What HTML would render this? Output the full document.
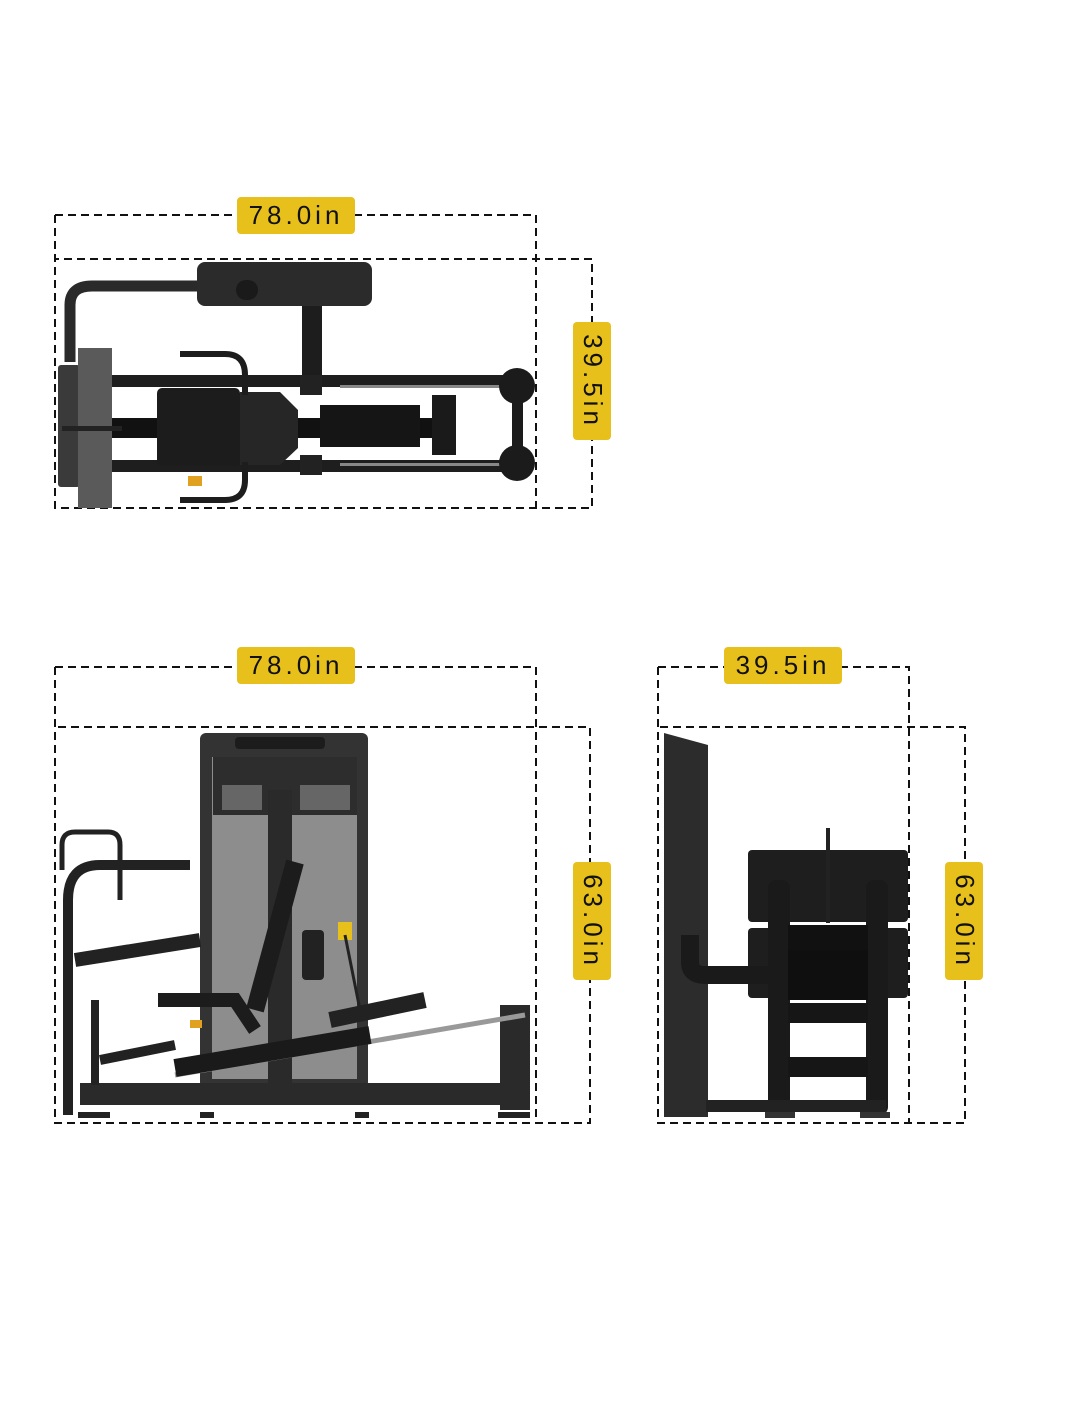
<!DOCTYPE html>
<html><head><meta charset="utf-8"><style>
html,body{margin:0;padding:0;background:#fff;}
body{width:1065px;height:1420px;position:relative;overflow:hidden;}
svg{position:absolute;left:0;top:0;}
.lab{position:absolute;background:#e8c01c;border-radius:4px;color:#111;font-family:"Liberation Sans",sans-serif;font-size:26px;letter-spacing:4px;display:flex;align-items:center;justify-content:center;}
.h{width:118px;height:37px;}
.v{width:38px;height:118px;}
.v span{display:block;transform:rotate(90deg);white-space:nowrap;}
</style></head><body>
<svg width="1065" height="1420" viewBox="0 0 1065 1420">
<g fill="none" stroke="#111" stroke-width="2" stroke-dasharray="8,5">
<!-- top view -->
<path d="M55 215H536V508"/><path d="M55 215V508H592V259H55"/>
<!-- side -->
<path d="M55 667H536V1123"/><path d="M55 667V1123H590V727H55"/>
<!-- front -->
<path d="M658 667H909V1123"/><path d="M658 667V1123H965V727H658"/>
</g>
<!-- TOP VIEW machine -->
<g>
<path d="M70 362V305Q70 286 92 286H200" stroke="#2a2a2a" stroke-width="11" fill="none"/>
<rect x="197" y="262" width="175" height="44" rx="8" fill="#2b2b2b"/>
<rect x="236" y="280" width="22" height="20" rx="10" fill="#1a1a1a"/>
<rect x="302" y="306" width="20" height="76" fill="#1d1d1d"/>
<rect x="58" y="365" width="22" height="122" rx="3" fill="#3a3a3a"/>
<rect x="78" y="348" width="34" height="160" fill="#5a5a5a"/>
<rect x="112" y="375" width="408" height="12" fill="#1e1e1e"/>
<rect x="112" y="460" width="408" height="12" fill="#1e1e1e"/>
<rect x="112" y="418" width="320" height="20" fill="#111"/>
<rect x="157" y="388" width="83" height="78" rx="5" fill="#1c1c1c"/>
<path d="M240 392L280 392L298 410V448L280 465H240Z" fill="#262626"/>
<rect x="320" y="405" width="100" height="42" fill="#151515"/>
<rect x="432" y="395" width="24" height="60" fill="#1a1a1a"/>
<rect x="340" y="385" width="190" height="3" fill="#888"/>
<rect x="340" y="463" width="190" height="3" fill="#888"/>
<circle cx="517" cy="386" r="18" fill="#1b1b1b"/>
<circle cx="517" cy="463" r="18" fill="#1b1b1b"/>
<rect x="512" y="386" width="11" height="77" fill="#1b1b1b"/>
<path d="M180 354H225Q245 354 245 375V395M180 500H225Q245 500 245 480V462" stroke="#1d1d1d" stroke-width="6" fill="none"/>
<rect x="62" y="426" width="60" height="5" fill="#222"/>
<rect x="188" y="476" width="14" height="10" fill="#e0a020"/>
<rect x="300" y="375" width="22" height="20" fill="#222"/>
<rect x="300" y="455" width="22" height="20" fill="#222"/>
</g>
<!-- SIDE VIEW machine -->
<g>
<rect x="200" y="733" width="168" height="355" rx="6" fill="#333"/>
<rect x="212" y="757" width="145" height="322" fill="#8d8d8d"/>
<rect x="213" y="757" width="144" height="58" fill="#2d2d2d"/>
<rect x="235" y="737" width="90" height="12" rx="4" fill="#1c1c1c"/>
<rect x="268" y="790" width="24" height="295" fill="#2a2a2a"/>
<rect x="222" y="785" width="40" height="25" fill="#bbb" opacity=".4"/>
<rect x="300" y="785" width="50" height="25" fill="#bbb" opacity=".4"/>
<rect x="80" y="1083" width="440" height="22" fill="#2a2a2a"/>
<rect x="500" y="1005" width="30" height="105" fill="#2a2a2a"/>
<path d="M175 1075L525 1015" stroke="#999" stroke-width="5"/>
<path d="M175 1068L370 1035" stroke="#1a1a1a" stroke-width="18"/>
<path d="M295 862L255 1010" stroke="#1c1c1c" stroke-width="18"/>
<rect x="302" y="930" width="22" height="50" rx="4" fill="#222"/>
<path d="M158 1000H235L255 1030" stroke="#1c1c1c" stroke-width="14" fill="none"/>
<path d="M330 1020L425 1000" stroke="#222" stroke-width="16"/>
<rect x="338" y="922" width="14" height="18" fill="#e8c01c"/>
<path d="M345 935L360 1010" stroke="#222" stroke-width="3"/>
<path d="M68 1115V900Q68 865 100 865H190" stroke="#222" stroke-width="10" fill="none"/>
<path d="M62 870V845Q62 832 75 832H108Q120 832 120 845V900" stroke="#222" stroke-width="5" fill="none"/>
<path d="M75 960L200 940" stroke="#222" stroke-width="14"/>
<path d="M95 1000V1085" stroke="#222" stroke-width="8"/>
<path d="M100 1060L175 1045" stroke="#222" stroke-width="10"/>
<rect x="190" y="1020" width="12" height="8" fill="#e0a020"/>
<rect x="78" y="1112" width="32" height="6" fill="#222"/>
<rect x="498" y="1112" width="32" height="6" fill="#222"/>
<rect x="200" y="1112" width="14" height="6" fill="#222"/>
<rect x="355" y="1112" width="14" height="6" fill="#222"/>
</g>
<!-- FRONT VIEW machine -->
<g>
<path d="M664 733L708 745V1117H664Z" fill="#2c2c2c"/>
<rect x="748" y="850" width="160" height="72" rx="4" fill="#1e1e1e"/>
<rect x="748" y="928" width="160" height="70" rx="4" fill="#1e1e1e"/>
<rect x="826" y="828" width="4" height="95" fill="#222"/>
<rect x="768" y="880" width="22" height="235" rx="8" fill="#1a1a1a"/>
<rect x="866" y="880" width="22" height="235" rx="8" fill="#1a1a1a"/>
<rect x="788" y="925" width="80" height="25" fill="#111"/>
<rect x="788" y="950" width="80" height="50" fill="#0f0f0f"/>
<rect x="788" y="1003" width="80" height="20" fill="#161616"/>
<rect x="788" y="1057" width="80" height="20" fill="#161616"/>
<path d="M690 935V962Q690 975 705 975H770" stroke="#1a1a1a" stroke-width="18" fill="none"/>
<rect x="706" y="1100" width="180" height="12" fill="#222"/>
<rect x="765" y="1112" width="30" height="6" fill="#333"/>
<rect x="860" y="1112" width="30" height="6" fill="#333"/>
</g>
</svg>
<div class="lab h" style="left:237px;top:197px">78.0in</div>
<div class="lab v" style="left:573px;top:322px"><span>39.5in</span></div>
<div class="lab h" style="left:237px;top:647px">78.0in</div>
<div class="lab v" style="left:573px;top:862px"><span>63.0in</span></div>
<div class="lab h" style="left:724px;top:647px">39.5in</div>
<div class="lab v" style="left:945px;top:862px"><span>63.0in</span></div>
</body></html>
